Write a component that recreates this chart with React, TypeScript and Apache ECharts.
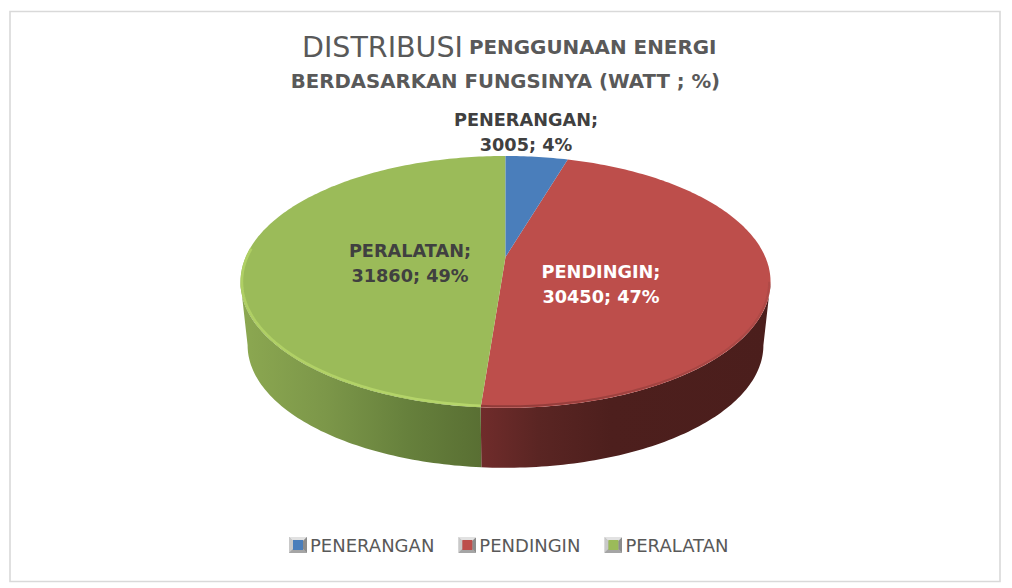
import React, { useEffect, useRef } from "react";
import * as echarts from "echarts";

const categories = ["PENERANGAN", "PENDINGIN", "PERALATAN"];
const watts = [3005, 30450, 31860];
const percents = [4, 47, 49];
const topColors = ["#4A7EBB", "#BD4E4B", "#9BBB59"];
const legendCore = ["#4A7EBB", "#BD4E4B", "#9BBB59"];

const FONT = '"DejaVu Sans", Verdana, sans-serif';
const cx = 505.5, cy = 257, a = 259.8, b = 121, k = 0.198;
const wallScale = 0.973, wallDrop = 64;
const total = watts.reduce((s, v) => s + v, 0);

const rim = (deg: number) => {
  const t = (deg * Math.PI) / 180;
  const u = Math.sin(t), w = -Math.cos(t), d = 1 - k * w;
  return [cx + (a * u) / d, cy + (b * w) / d];
};
const rimBottom = (deg: number) => {
  const [x, y] = rim(deg);
  return [cx + wallScale * (x - cx), cy + wallDrop + wallScale * (y - cy)];
};
const arcPoints = (from: number, to: number, fn: (d: number) => number[]) => {
  const pts: number[][] = [];
  const n = Math.max(2, Math.ceil(Math.abs(to - from)));
  for (let i = 0; i <= n; i++) pts.push(fn(from + ((to - from) * i) / n));
  return pts;
};
const silhouette = (Math.acos(-k) * 180) / Math.PI;
const wallFrom = silhouette, wallTo = 360 - silhouette;

const wallStops = [
  null,
  [[0, "#702C2B"], [0.2, "#5A2523"], [0.45, "#4D1F1D"], [1, "#4B1E1C"]],
  [[0, "#8CA851"], [0.35, "#7C9749"], [0.7, "#66803C"], [1, "#596F33"]],
] as any[];
const rimStyles = [
  null,
  { from: "#B04A47", to: "#8E3A38" },
  { from: "#B6D66B", to: "#AFCF64" },
] as any[];
const labelStyles = [
  { x: 526, y: 132.5, fill: "#404040" },
  { x: 601, y: 284, fill: "#FFFFFF" },
  { x: 410, y: 263.5, fill: "#404040" },
];

const icon = (c: string) =>
  "image://data:image/svg+xml;utf8," +
  encodeURIComponent(
    `<svg xmlns="http://www.w3.org/2000/svg" width="18" height="16"><rect width="18" height="16" fill="#b5b5b5"/><polygon points="0,0 18,0 14,4 4,4" fill="#e2e2e2"/><polygon points="0,0 4,4 4,12 0,16" fill="#c9c9c9"/><polygon points="18,0 14,4 14,12 18,16" fill="#8c8c8c"/><polygon points="0,16 4,12 14,12 18,16" fill="#a5a5a5"/><rect x="4" y="3" width="10" height="10" fill="${c}"/></svg>`
  );

export default function App() {
  const ref = useRef<HTMLDivElement>(null);
  useEffect(() => {
    document.body.style.margin = "0";
    const chart = echarts.init(ref.current!, undefined, { renderer: "svg" });
    const series = categories.map((name, idx) => {
      const start = (watts.slice(0, idx).reduce((s, v) => s + v, 0) / total) * 360;
      return {
        type: "custom",
        name,
        coordinateSystem: "none",
        silent: true,
        z: idx === 0 ? 3 : 2,
        itemStyle: { color: topColors[idx] },
        data: [watts[idx]],
        renderItem: (_p: any, api: any) => {
          const end = start + (api.value(0) / total) * 360;
          const children: any[] = [];
          const wa = Math.max(start, wallFrom), wb = Math.min(end, wallTo);
          if (wb > wa && wallStops[idx]) {
            const stops = wallStops[idx].map((s: any) => ({ offset: s[0], color: s[1] }));
            const topPts = arcPoints(wa, wb, rim);
            const botPts = arcPoints(wb, wa, rimBottom);
            children.push({
              type: "polygon",
              shape: { points: [...topPts, ...botPts] },
              style: { fill: new echarts.graphic.LinearGradient(0, 0, 1, 0, stops) },
            });
          }
          children.push({
            type: "polygon",
            shape: { points: [[cx, cy], ...arcPoints(start, end, rim)] },
            style: { fill: topColors[idx] },
          });
          if (rimStyles[idx] && wb > wa) {
            const r = rimStyles[idx];
            const limit = idx === 2 ? Math.min(end, 274) : wb;
            const inset = (d: number) => {
              const [x, y] = rim(d);
              return [cx + 0.9945 * (x - cx), cy + 0.99 * (y - cy)];
            };
            children.push({
              type: "polyline",
              shape: { points: arcPoints(wa, limit, inset) },
              style: {
                fill: "none",
                lineWidth: idx === 2 ? 2.6 : 2,
                stroke: new echarts.graphic.LinearGradient(0, 0, 1, 0, [
                  { offset: 0, color: r.to },
                  { offset: 1, color: r.from },
                ]),
              },
            });
          }
          const ls = labelStyles[idx];
          children.push({
            type: "text",
            z2: 10,
            style: {
              text: `${categories[idx]};\n${watts[idx]}; ${percents[idx]}%`,
              x: ls.x,
              y: ls.y,
              fill: ls.fill,
              align: "center",
              verticalAlign: "middle",
              fontFamily: FONT,
              fontWeight: "bold",
              fontSize: 17.7,
              lineHeight: 25,
            },
          });
          return { type: "group", children };
        },
      };
    });
    chart.setOption({
      animation: false,
      backgroundColor: "#FFFFFF",
      title: {
        left: 297,
        top: 22,
        textAlign: "left",
        text: "{a|DISTRIBUSI}{b|PENGGUNAAN ENERGI}",
        textStyle: {
          rich: {
            a: { fontFamily: FONT, fontSize: 28.5, fontWeight: 400, color: "#595959", lineHeight: 40 },
            b: { fontFamily: FONT, fontSize: 19.9, fontWeight: "bold", color: "#595959", lineHeight: 40, padding: [0, 0, 0, 6] },
          },
        },
      },
      legend: {
        left: 289,
        top: 536,
        itemWidth: 18,
        itemHeight: 16,
        itemGap: 24,
        selectedMode: false,
        padding: 0,
        textStyle: { fontFamily: FONT, fontSize: 18, color: "#595959", padding: [0, 0, 0, -2] },
        data: categories.map((name, i) => ({ name, icon: icon(legendCore[i]) })),
      },
      graphic: [
        {
          type: "rect",
          silent: true,
          z: -1,
          shape: { x: 10, y: 11.5, width: 990, height: 570 },
          style: { fill: "#FFFFFF", stroke: "#D9D9D9", lineWidth: 1.6 },
        },
        {
          type: "text",
          silent: true,
          style: {
            text: "BERDASARKAN FUNGSINYA (WATT ; %)",
            x: 505.5,
            y: 81,
            align: "center",
            verticalAlign: "middle",
            fontFamily: FONT,
            fontWeight: "bold",
            fontSize: 19.7,
            fill: "#595959",
          },
        },
      ],
      series,
    });
    return () => chart.dispose();
  }, []);
  return <div ref={ref} style={{ position: "absolute", left: 0, top: 0, width: 1012, height: 588 }} />;
}
